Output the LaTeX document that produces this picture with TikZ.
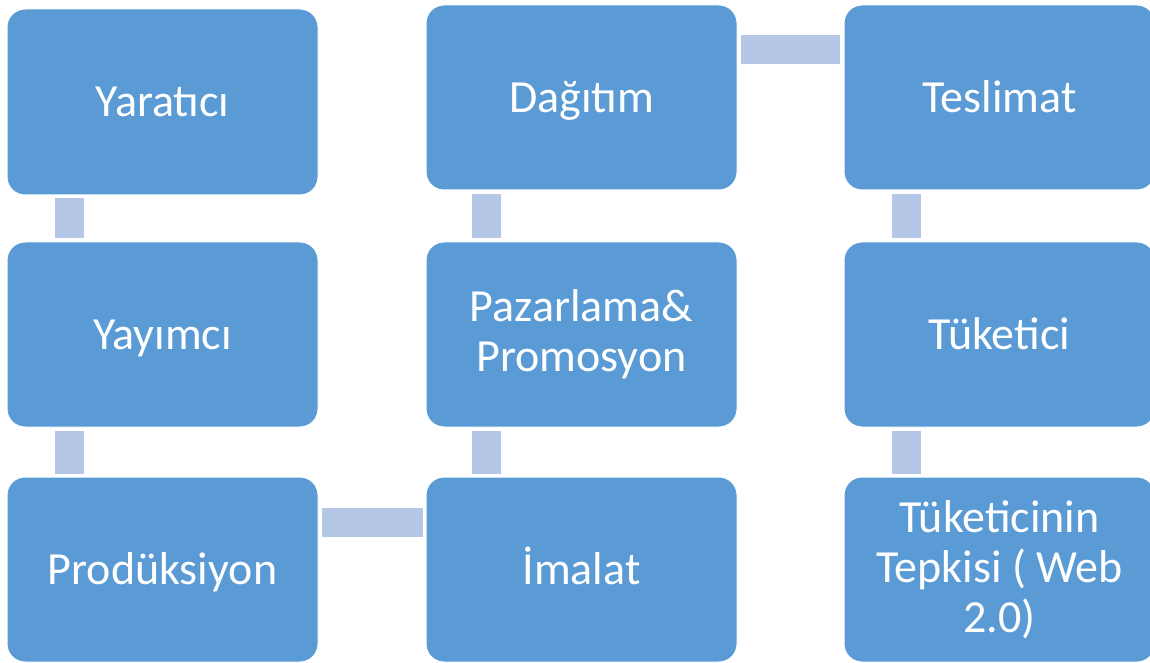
\documentclass[tikz,border=0pt]{standalone}
\usepackage{fontspec}
\setmainfont{Carlito}
\usetikzlibrary{calc}
\definecolor{boxblue}{HTML}{5B9BD5}
\definecolor{connblue}{HTML}{B4C7E7}
\tikzset{
  stagebox/.style={rounded corners=18pt, fill=boxblue, draw=white, line width=1pt,
    text=white, font=\fontsize{46}{50}\selectfont, align=center,
    minimum width=311pt, minimum height=185pt, inner sep=0pt},
  oneline/.style={stagebox, text height=40pt, text depth=10pt},
  conn/.style={draw=connblue, line width=29pt, line cap=butt}
}
\begin{document}
\begin{tikzpicture}[x=1pt,y=1pt]
\useasboundingbox (0,0) rectangle (1150,662);
\fill[white] (0,0) rectangle (1150,662);
% column 1
\node[oneline, minimum height=186pt] (yaratici) at (162.5,560) {Yaratıcı};
\node[oneline] (yayimci) at (162.5,327.5) {Yayımcı};
\node[oneline] (prod) at (162.5,92.5) {Prodüksiyon};
% column 2
\node[oneline] (dagitim) at (581.5,564.5) {Dağıtım};
\node[stagebox] (pazar) at (581.5,327.5) {Pazarlama\&\\Promosyon};
\node[oneline] (imalat) at (581.5,92.5) {İmalat};
% column 3
\node[oneline] (teslimat) at (999.5,564.5) {Teslimat};
\node[oneline] (tuketici) at (999.5,327.5) {Tüketici};
\node[stagebox] (tepki) at (999.5,92.5) {Tüketicinin\\Tepkisi ( Web\\2.0)};
% connectors
\draw[conn] ($(yaratici.south west)+(62.5,-3)$) -- ($(yayimci.north west)+(62.5,3)$);
\draw[conn] ($(yayimci.south west)+(62.5,-3)$) -- ($(prod.north west)+(62.5,3)$);
\draw[conn] ($(prod.north east)+(3,-45.5)$) -- ($(imalat.north west)+(-3,-45.5)$);
\draw[conn] ($(imalat.north west)+(60.5,3)$) -- ($(pazar.south west)+(60.5,-3)$);
\draw[conn] ($(pazar.north west)+(60.5,3)$) -- ($(dagitim.south west)+(60.5,-4)$);
\draw[conn] ($(dagitim.north east)+(3,-45)$) -- ($(teslimat.north west)+(-4,-45)$);
\draw[conn] ($(teslimat.south west)+(62.5,-4)$) -- ($(tuketici.north west)+(62.5,3)$);
\draw[conn] ($(tuketici.south west)+(62.5,-3)$) -- ($(tepki.north west)+(62.5,3)$);
\end{tikzpicture}
\end{document}
